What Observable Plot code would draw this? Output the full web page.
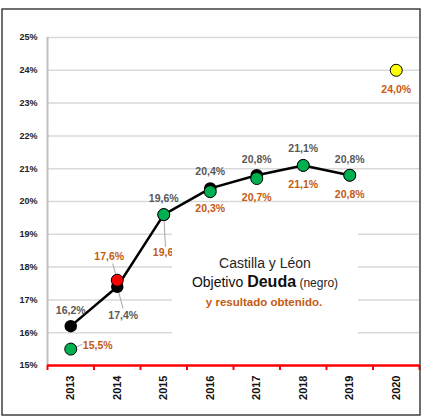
<!DOCTYPE html>
<html><head><meta charset="utf-8">
<script src="https://cdn.jsdelivr.net/npm/d3@7"></script>
<script src="https://cdn.jsdelivr.net/npm/@observablehq/plot@0.6"></script>
<style>
body{margin:0;background:#fff;}
#chart{position:relative;width:421px;height:420px;}
</style></head><body><div id="chart"></div>
<script>
// ---- data ----
const years = [2013, 2014, 2015, 2016, 2017, 2018, 2019, 2020];
const objetivoYears = [2013, 2014, 2015, 2016, 2017, 2018, 2019];
const objetivo = [16.2, 17.4, 19.6, 20.4, 20.8, 21.1, 20.8];
const resultado = [15.5, 17.6, 19.6, 20.3, 20.7, 21.1, 20.8, 24.0];
const estado = ["cumplido", "incumplido", "cumplido", "cumplido", "cumplido", "cumplido", "cumplido", "previsto"];
const yTicks = [15, 16, 17, 18, 19, 20, 21, 22, 23, 24, 25];
const titulo = "Castilla y Léon";
const subtitulo = ["Objetivo ", "Deuda", " (negro)"];
const nota = "y resultado obtenido.";

// ---- styles / layout ----
const font = "'Liberation Sans', Arial, sans-serif";
const orange = "#C55A11";
const greyText = "#595959";
const fmt = v => v.toFixed(1).replace(".", ",") + "%";
const obj = objetivoYears.map((year, i) => ({year, value: objetivo[i]}));
const res = years.map((year, i) => ({year, value: resultado[i], estado: estado[i]}));
const boundaries = d3.range(years.length + 1).map(i => years[0] - 0.5 + i);

const objOffsets = [[0,-16],[6,29],[0,-16],[0,-17],[0,-16],[0,-17],[0,-16]];
const resOffsets = [[27,-3],[-8,-24],[4,38],[0,17],[0,19],[0,19],[0,19],[0,19]];
const resLeaders = {0: [67, 12], 1: [-15, 17], 2: [177, 32]};
const objLeaders = {1: [165, 22]};

const lineShape = {draw(context, l) { context.moveTo(0, 0); context.lineTo(0, -l); }};

const marks = [
  Plot.ruleY(yTicks.slice(1), {y: d => d, stroke: "#d9d9d9", strokeWidth: 1.5}),
  Plot.ruleX([boundaries[0]], {x: d => d, stroke: "#bfbfbf", strokeWidth: 2}),
  Plot.axisY({ticks: yTicks, tickSize: 0, tickPadding: 10, tickFormat: d => d + "%",
    fontWeight: "bold", fontSize: 9, fill: "#222", label: null}),
  Plot.axisX({ticks: years, tickSize: 0, tickPadding: 10, tickRotate: -90,
    tickFormat: d => String(d), fontWeight: "bold", fontSize: 11, fill: "#111", label: null}),
  Plot.axisX({ticks: boundaries, tickSize: 5, tickFormat: () => "", stroke: "red", strokeWidth: 2, label: null}),
  Plot.ruleY([yTicks[0]], {y: d => d, stroke: "red", strokeWidth: 2.5}),
  Plot.line(obj, {x: "year", y: "value", stroke: "black", strokeWidth: 2.5}),
];
obj.forEach((d, i) => {
  if (objLeaders[i]) marks.push(Plot.vector([d], {x: "year", y: "value", anchor: "start",
    rotate: objLeaders[i][0], length: objLeaders[i][1], shape: lineShape, stroke: "#a6a6a6", strokeWidth: 1}));
});
res.forEach((d, i) => {
  if (resLeaders[i]) marks.push(Plot.vector([d], {x: "year", y: "value", anchor: "start",
    rotate: resLeaders[i][0], length: resLeaders[i][1], shape: lineShape, stroke: "#a6a6a6", strokeWidth: 1}));
});
marks.push(
  Plot.dot(obj, {x: "year", y: "value", r: 5.5, fill: "black", stroke: "black"}),
  Plot.dot(res, {x: "year", y: "value", r: 6, fill: "estado", stroke: "black", strokeWidth: 1})
);
obj.forEach((d, i) => marks.push(Plot.text([d], {x: "year", y: "value", text: d => fmt(d.value),
  dx: objOffsets[i][0], dy: objOffsets[i][1], fill: greyText, fontSize: 10.5, fontWeight: "bold"})));
res.forEach((d, i) => marks.push(Plot.text([d], {x: "year", y: "value", text: d => fmt(d.value),
  dx: resOffsets[i][0], dy: resOffsets[i][1], fill: orange, fontSize: 10.5, fontWeight: "bold"})));

const chart = Plot.plot({
  width: 421, height: 420,
  marginLeft: 47, marginRight: 2, marginTop: 37, marginBottom: 55,
  style: {fontFamily: font, background: "white", overflow: "visible"},
  x: {type: "linear", domain: [boundaries[0], boundaries[boundaries.length - 1]], axis: null},
  y: {domain: [yTicks[0], yTicks[yTicks.length - 1]], axis: null},
  color: {type: "ordinal", domain: ["cumplido", "incumplido", "previsto"], range: ["#00B050", "#FF0000", "#FFFF00"]},
  marks
});
document.getElementById("chart").appendChild(chart);

// annotation box + outer border
const svg = d3.select(chart);
svg.append("rect").attr("x", 172).attr("y", 214).attr("width", 186).attr("height", 140).attr("fill", "white");
const g = svg.append("g").attr("text-anchor", "middle").attr("font-family", font);
g.append("text").attr("x", 265).attr("y", 268).attr("font-size", 14).attr("fill", "#262626").text(titulo);
const t2 = g.append("text").attr("x", 265).attr("y", 287).attr("fill", "#111");
t2.append("tspan").attr("font-size", 14).text(subtitulo[0]);
t2.append("tspan").attr("font-size", 16).attr("font-weight", "bold").text(subtitulo[1]);
t2.append("tspan").attr("font-size", 12).attr("fill", "#262626").text(subtitulo[2]);
g.append("text").attr("x", 264).attr("y", 306).attr("font-size", 11.5).attr("font-weight", "bold")
  .attr("fill", orange).text(nota);
svg.append("rect").attr("x", 2).attr("y", 9).attr("width", 418).attr("height", 406)
  .attr("fill", "none").attr("stroke", "#404040").attr("stroke-width", 1.5);
</script></body></html>
